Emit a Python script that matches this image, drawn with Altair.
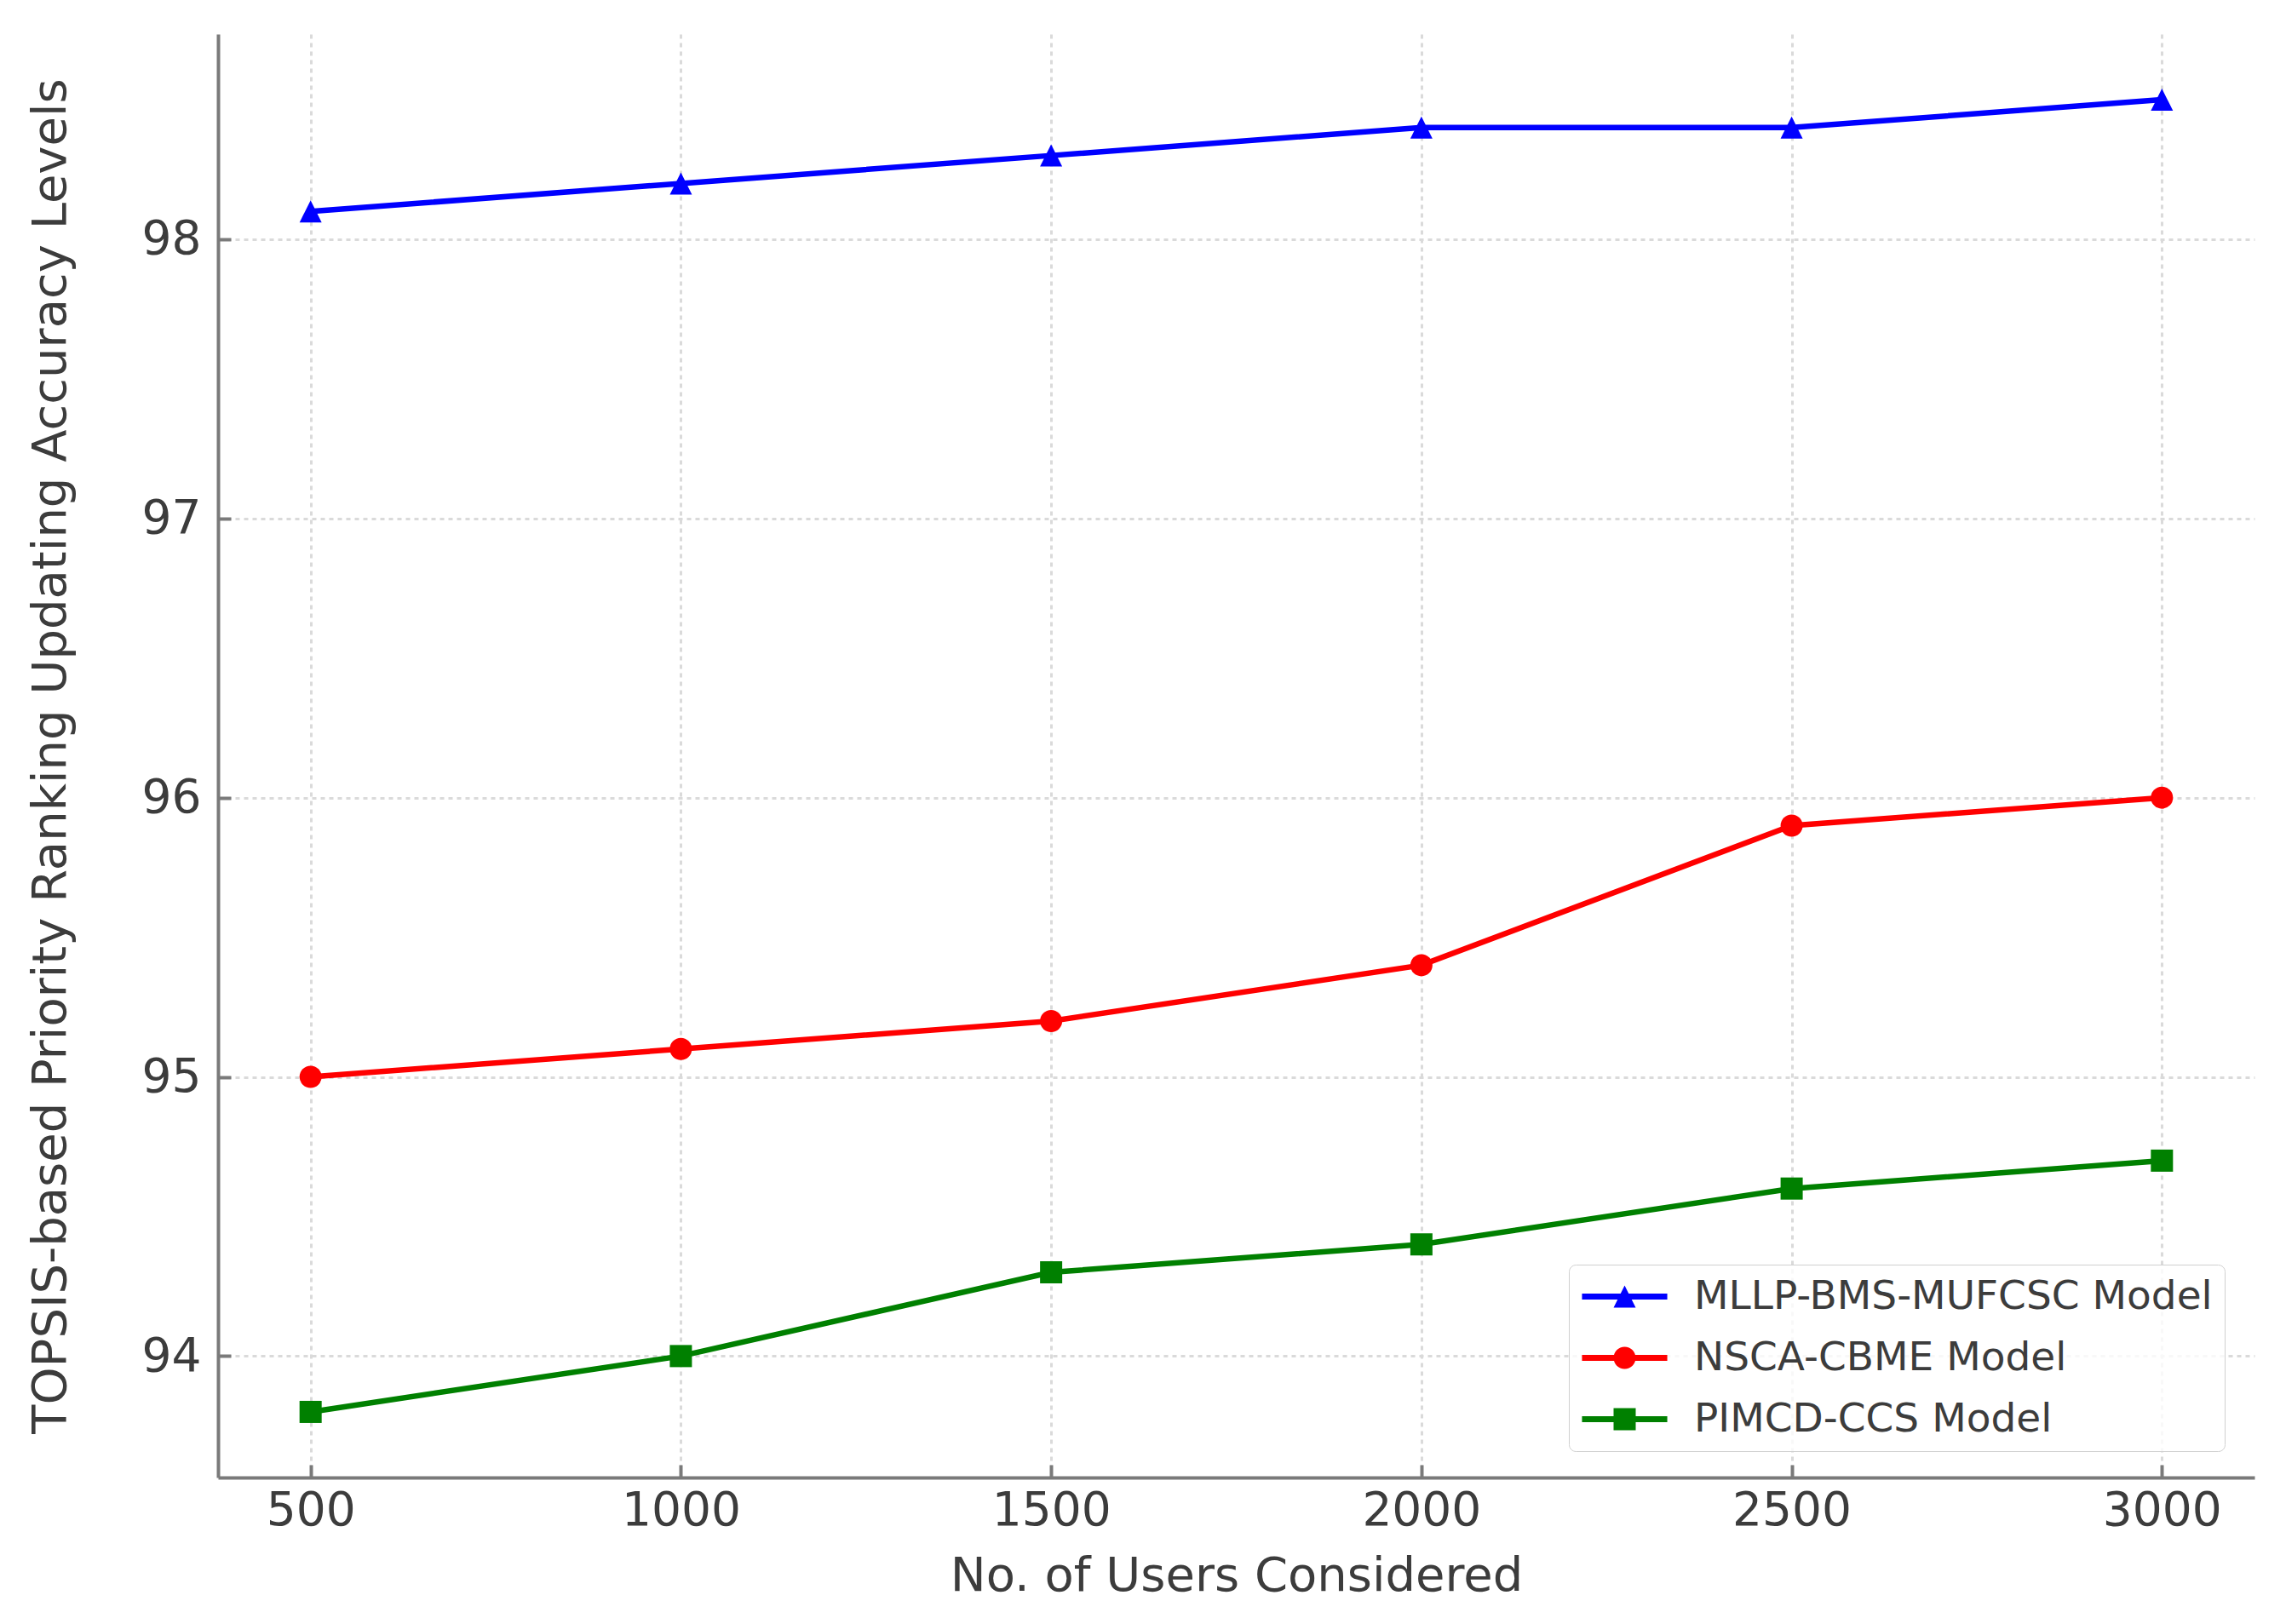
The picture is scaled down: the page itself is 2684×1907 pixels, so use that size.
import altair as alt
import pandas as pd

users = [500, 1000, 1500, 2000, 2500, 3000]
mllp = [98.1, 98.2, 98.3, 98.4, 98.4, 98.5]
nsca = [95.0, 95.1, 95.2, 95.4, 95.9, 96.0]
pimcd = [93.8, 94.0, 94.3, 94.4, 94.6, 94.7]
models = ["MLLP-BMS-MUFCSC Model", "NSCA-CBME Model", "PIMCD-CCS Model"]
colors = ["#0000ff", "#ff0000", "#008000"]
y_ticks = [94, 95, 96, 97, 98]

rows = []
for m, vals in zip(models, [mllp, nsca, pimcd]):
    for u, v in zip(users, vals):
        rows.append({"model": m, "users": u, "acc": v})
df = pd.DataFrame(rows)

FONT = "DejaVu Sans"
GRAY = "#7a7a7a"
TXT = "#3c3c3c"

TRI = "M0,-1L1,1L-1,1Z"
CIRC = "M-1,0A1,1,0,1,1,1,0A1,1,0,1,1,-1,0Z"
SQR = "M-1,-1L1,-1L1,1L-1,1Z"
LL, TT = 3.85, 0.27
SEG = f"M{-LL},{-TT}L{LL},{-TT}L{LL},{TT}L{-LL},{TT}Z"
marker_shapes = [TRI, "circle", "square"]
legend_shapes = [SEG + TRI, SEG + CIRC, SEG + SQR]

xs = alt.Scale(domain=[375, 3125], nice=False, zero=False)
ys = alt.Scale(domain=[93.565, 98.735], nice=False, zero=False)

x_main = alt.Axis(values=users, orient="bottom", title="No. of Users Considered",
                  labelFont=FONT, titleFont=FONT, labelFontSize=55, titleFontSize=56,
                  labelColor=TXT, titleColor=TXT, titleFontWeight="normal",
                  labelPadding=12, titlePadding=22, domainColor=GRAY, domainWidth=4,
                  ticks=False, tickSize=0, grid=True, gridColor="#dadada", gridWidth=3,
                  gridDash=[5, 5], format="d", labelFlush=False, labelOverlap=False)
y_main = alt.Axis(values=y_ticks, orient="left",
                  title="TOPSIS-based Priority Ranking Updating Accuracy Levels",
                  labelFont=FONT, titleFont=FONT, labelFontSize=55, titleFontSize=56,
                  labelColor=TXT, titleColor=TXT, titleFontWeight="normal",
                  labelPadding=20, titlePadding=78, domainColor=GRAY, domainWidth=4,
                  ticks=False, tickSize=0, grid=True, gridColor="#dadada", gridWidth=3,
                  gridDash=[5, 5], format="d", labelFlush=False, labelOverlap=False)
x_tick = alt.Axis(values=users, orient="bottom", offset=-15, domain=False, labels=False,
                  title=None, grid=False, ticks=True, tickSize=15, tickWidth=4, tickColor=GRAY)
y_tick = alt.Axis(values=y_ticks, orient="left", offset=-15, domain=False, labels=False,
                  title=None, grid=False, ticks=True, tickSize=15, tickWidth=4, tickColor=GRAY)

leg = alt.Legend(title=None, orient="none", legendX=1586, legendY=1445,
                 labelFont=FONT, labelFontSize=47, labelColor=TXT, labelLimit=1500,
                 symbolSize=676, symbolStrokeWidth=0, symbolOpacity=1,
                 symbolOffset=28, labelOffset=58, rowPadding=24, padding=14,
                 fillColor="rgba(255,255,255,0.8)", strokeColor="#d0d0d0", cornerRadius=8)

base = alt.Chart(df)

lines = base.mark_line(strokeWidth=6.5).encode(
    x=alt.X("users:Q", scale=xs, axis=x_main),
    y=alt.Y("acc:Q", scale=ys, axis=y_main),
    color=alt.Color("model:N", scale=alt.Scale(domain=models, range=colors), legend=None),
    detail="model:N",
)

points = base.mark_point(filled=True, size=676, opacity=1, strokeWidth=0).encode(
    x=alt.X("users:Q", scale=xs, axis=x_tick),
    y=alt.Y("acc:Q", scale=ys, axis=y_tick),
    color=alt.Color("model:N", scale=alt.Scale(domain=models, range=colors), legend=None),
    shape=alt.Shape("model:N", scale=alt.Scale(domain=models, range=marker_shapes), legend=None),
)

legend_layer = base.mark_point(filled=True, size=676, opacity=0).encode(
    x=alt.X("users:Q", scale=xs, axis=None),
    y=alt.Y("acc:Q", scale=ys, axis=None),
    color=alt.Color("model:N", scale=alt.Scale(domain=models, range=colors), legend=leg),
    shape=alt.Shape("model:N", scale=alt.Scale(domain=models, range=legend_shapes), legend=leg),
)

chart = alt.layer(lines, points, legend_layer).resolve_scale(
    color="independent", shape="independent"
).resolve_axis(
    x="independent", y="independent"
).properties(
    width=2391, height=1695,
    autosize=alt.AutoSizeParams(type="none"),
    padding={"left": 248, "top": 32, "right": 29, "bottom": 164},
    background="white",
).configure_view(stroke=None)

chart.save("out.html", embed_options={"renderer": "svg", "actions": False})
